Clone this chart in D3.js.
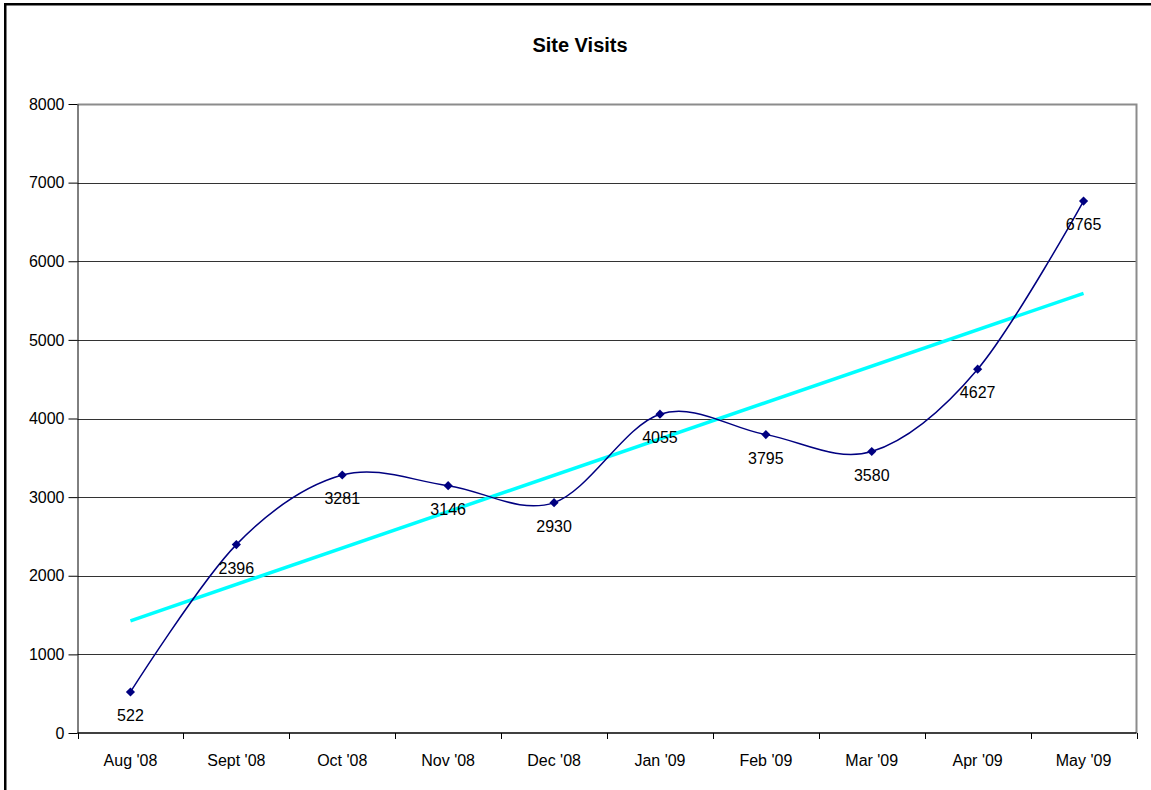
<!DOCTYPE html>
<html>
<head>
<meta charset="utf-8">
<script src="https://cdn.jsdelivr.net/npm/d3@7"></script>
<style>
  html, body { margin: 0; padding: 0; background: #fff; }
  svg { display: block; }
  text { font-family: Arial, "Liberation Sans", sans-serif; fill: #000; }
</style>
</head>
<body>
<svg id="chart" width="1151" height="790"></svg>
<script>
// Monthly site visits
const months = ["Aug '08", "Sept '08", "Oct '08", "Nov '08", "Dec '08",
                "Jan '09", "Feb '09", "Mar '09", "Apr '09", "May '09"];
const visits = [522, 2396, 3281, 3146, 2930, 4055, 3795, 3580, 4627, 6765];
const yTicks = [0, 1000, 2000, 3000, 4000, 5000, 6000, 7000, 8000];
const title = "Site Visits";

const W = 1151, H = 790;
const plot = { left: 77.5, right: 1136.5, top: 104, bottom: 733 };

const svg = d3.select("#chart");

// outer chart frame (runs off the right and bottom edges)
svg.append("rect")
  .attr("x", 5.25).attr("y", 4.25)
  .attr("width", W + 20).attr("height", H + 20)
  .attr("fill", "#fff")
  .attr("stroke", "#000").attr("stroke-width", 2.5);

svg.append("text")
  .attr("x", 580).attr("y", 52)
  .attr("text-anchor", "middle")
  .style("font-size", "20px").style("font-weight", "bold")
  .text(title);

const x = d3.scaleBand().domain(months).range([plot.left, plot.right]);
const y = d3.scaleLinear().domain([0, 8000]).range([plot.bottom, plot.top]);
const cx = m => x(m) + x.bandwidth() / 2;

// horizontal gridlines
svg.append("g")
  .selectAll("line")
  .data(yTicks.filter(t => t > 0 && t < 8000))
  .join("line")
  .attr("x1", plot.left).attr("x2", plot.right)
  .attr("y1", d => Math.round(y(d)) + 0.5).attr("y2", d => Math.round(y(d)) + 0.5)
  .attr("stroke", "#333").attr("stroke-width", 1);

// plot area border (top and right)
svg.append("path")
  .attr("d", `M${plot.left},${plot.top + 0.5}H${plot.right}V${plot.bottom}`)
  .attr("fill", "none").attr("stroke", "#8c8c8c").attr("stroke-width", 2);

// y axis
const yAxis = svg.append("g")
  .attr("transform", `translate(${plot.left},0)`)
  .call(d3.axisLeft(y).tickValues(yTicks).tickFormat(d3.format("d"))
        .tickSize(9).tickPadding(4).tickSizeOuter(0));
yAxis.select(".domain").attr("stroke", "#000");
yAxis.selectAll(".tick line").attr("stroke", "#000");
yAxis.selectAll(".tick text")
  .style("font-size", "16px").style("font-family", "Arial, 'Liberation Sans', sans-serif")
  .attr("fill", "#000");

// x axis with ticks between categories
const xAxisG = svg.append("g").attr("transform", `translate(0,${plot.bottom})`);
xAxisG.append("line")
  .attr("x1", plot.left).attr("x2", plot.right)
  .attr("y1", 0).attr("y2", 0)
  .attr("stroke", "#000").attr("stroke-width", 1.5);
const bounds = months.map(m => x(m)).concat([plot.right]);
xAxisG.selectAll("line.tick")
  .data(bounds)
  .join("line").attr("class", "tick")
  .attr("x1", d => Math.round(d) + 0.5).attr("x2", d => Math.round(d) + 0.5)
  .attr("y1", 0).attr("y2", 6)
  .attr("stroke", "#000");
xAxisG.selectAll("text")
  .data(months)
  .join("text")
  .attr("x", d => cx(d)).attr("y", 33)
  .attr("text-anchor", "middle")
  .style("font-size", "16px")
  .text(d => d);

// linear trend line (least squares over the month index)
const n = visits.length;
const idx = d3.range(1, n + 1);
const mx = d3.mean(idx), my = d3.mean(visits);
const slope = d3.sum(idx, (i, k) => (i - mx) * (visits[k] - my)) / d3.sum(idx, i => (i - mx) ** 2);
const intercept = my - slope * mx;
svg.append("line")
  .attr("x1", cx(months[0])).attr("y1", y(intercept + slope * 1))
  .attr("x2", cx(months[n - 1])).attr("y2", y(intercept + slope * n))
  .attr("stroke", "#00ffff").attr("stroke-width", 3.5);

// smoothed series line
const pts = months.map((m, i) => [cx(m), y(visits[i])]);
svg.append("path")
  .attr("d", d3.line().curve(d3.curveCardinal.tension(0))(pts))
  .attr("fill", "none").attr("stroke", "#000080").attr("stroke-width", 1.5);

// diamond markers
svg.append("g")
  .selectAll("path")
  .data(pts)
  .join("path")
  .attr("d", d3.symbol(d3.symbolSquare, 42))
  .attr("transform", d => `translate(${d[0]},${d[1]}) rotate(45)`)
  .attr("fill", "#000080");

// value labels under each marker
svg.append("g")
  .selectAll("text")
  .data(visits)
  .join("text")
  .attr("x", (d, i) => cx(months[i]))
  .attr("y", d => y(d) + 29)
  .attr("text-anchor", "middle")
  .style("font-size", "16px")
  .text(d => d);
</script>
</body>
</html>
